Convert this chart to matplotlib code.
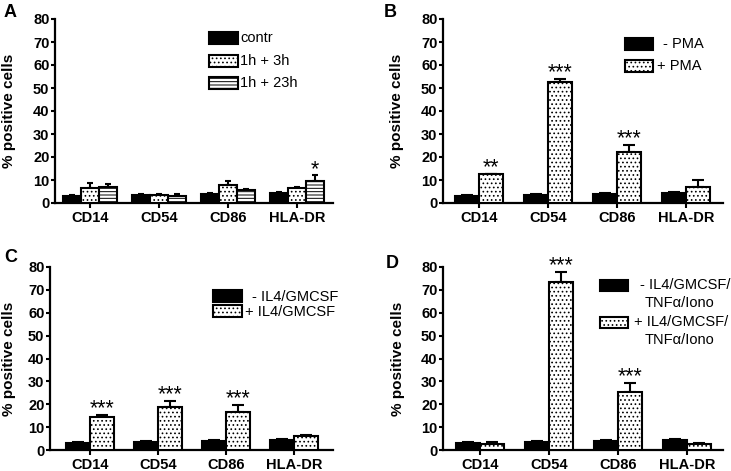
import numpy as np
import matplotlib
matplotlib.use('Agg')
import matplotlib.pyplot as plt
from matplotlib.patches import Rectangle

plt.rcParams['font.family'] = ['Liberation Sans', 'DejaVu Sans']
plt.rcParams['hatch.linewidth'] = 0.7

W, H = 731, 471

markers = ['CD14', 'CD54', 'CD86', 'HLA-DR']

# A - contr / 1h+3h / 1h+23h
a_contr = [3.0, 3.5, 4.0, 4.5]
a_contr_err = [0.3, 0.3, 0.3, 0.3]
a_3h = [6.5, 3.5, 8.0, 6.5]
a_3h_err = [2.2, 0.6, 1.5, 0.4]
a_23h = [7.0, 3.2, 5.5, 9.5]
a_23h_err = [1.4, 0.6, 0.6, 2.5]
a_stars = ['', '', '', '*']

# B - PMA
b_minus = [3.0, 3.5, 4.0, 4.5]
b_minus_err = [0.3, 0.3, 0.2, 0.3]
b_plus = [12.5, 52.5, 22.0, 7.0]
b_plus_err = [0.3, 1.3, 3.2, 2.8]
b_stars = ['**', '***', '***', '']

# C - IL4/GMCSF
c_minus = [3.0, 3.5, 4.0, 4.5]
c_minus_err = [0.3, 0.3, 0.2, 0.3]
c_plus = [14.5, 19.0, 16.5, 6.0]
c_plus_err = [0.8, 2.5, 3.2, 0.7]
c_stars = ['***', '***', '***', '']

# D - IL4/GMCSF/TNFa/Iono
d_minus = [3.0, 3.5, 4.0, 4.5]
d_minus_err = [0.3, 0.3, 0.2, 0.3]
d_plus = [2.5, 73.5, 25.5, 2.5]
d_plus_err = [0.8, 4.5, 4.0, 0.4]
d_stars = ['', '***', '***', '']

STYLES = {
    'black': dict(facecolor='black', hatch=None),
    'dots': dict(facecolor='white', hatch='....'),
    'lines': dict(facecolor='white', hatch='-----'),
}

fig = plt.figure(figsize=(W / 100, H / 100), dpi=100)


def px_axes(left, right, top, bottom):
    return fig.add_axes([left / W, 1 - bottom / H, (right - left) / W, (bottom - top) / H])


def style_axes(ax, xlim, ylab_x):
    ax.set_xlim(*xlim)
    ax.set_ylim(0, 80)
    ax.set_yticks(range(0, 81, 10))
    ax.set_xticks(np.arange(len(markers)))
    ax.set_xticklabels(markers, fontsize=10.5, fontweight='bold')
    for lab in ax.get_yticklabels():
        lab.set_fontweight('bold')
        lab.set_fontsize(10.5)
    ax.spines['top'].set_visible(False)
    ax.spines['right'].set_visible(False)
    ax.spines['left'].set_linewidth(1.6)
    ax.spines['bottom'].set_linewidth(1.6)
    ax.tick_params(axis='y', length=3, width=1.5, pad=1)
    ax.tick_params(axis='x', length=3.5, width=1.5, pad=2)
    ax.set_ylabel('% positive cells', fontsize=11, fontweight='bold')
    ax.yaxis.set_label_coords(ylab_x, 0.5)


def draw_bars(ax, vals, errs, style, offset, width, capsize):
    x = np.arange(len(markers)) + offset
    st = STYLES[style]
    ax.bar(x, vals, width=width, facecolor=st['facecolor'], hatch=st['hatch'],
           edgecolor='black', linewidth=1.5, zorder=3)
    ax.errorbar(x, vals, yerr=[np.zeros(len(vals)), errs], fmt='none',
                ecolor='black', elinewidth=1.5, capsize=capsize, capthick=1.5, zorder=2)
    return x


def draw_stars(ax, x, vals, errs, stars):
    for xi, v, e, s in zip(x, vals, errs, stars):
        if s:
            ax.annotate(s, (xi, v + e), xytext=(0, 0.5), textcoords='offset points',
                        ha='center', va='baseline', fontsize=15.5)


def legend_box(x, y, w, h, style):
    st = STYLES[style]
    fig.add_artist(Rectangle((x / W, 1 - (y + h) / H), w / W, h / H, transform=fig.transFigure,
                             facecolor=st['facecolor'], hatch=st['hatch'],
                             edgecolor='black', linewidth=1.5))


def legend_text(x, y, s):
    fig.text(x / W, 1 - y / H, s, fontsize=10.5, va='center', ha='left')


def panel_letter(x, y, s):
    fig.text(x / W, 1 - y / H, s, fontsize=13, fontweight='bold', va='top', ha='left')


# ---- A
axA = px_axes(55, 333, 19, 203)
style_axes(axA, (-0.51, 3.52), -0.14)
w3 = 0.26
draw_bars(axA, a_contr, a_contr_err, 'black', -w3, w3, 2.5)
draw_bars(axA, a_3h, a_3h_err, 'dots', 0, w3, 2.5)
xa = draw_bars(axA, a_23h, a_23h_err, 'lines', w3, w3, 2.5)
draw_stars(axA, xa, a_23h, a_23h_err, a_stars)
legend_box(209, 32, 29, 12, 'black')
legend_box(209, 55, 29, 12, 'dots')
legend_box(209, 77, 29, 12, 'lines')
legend_text(240, 38, 'contr')
legend_text(240, 61, '1h + 3h')
legend_text(240, 83, '1h + 23h')
panel_letter(4, 4, 'A')

# ---- B
w2 = 0.35
axB = px_axes(443, 723, 19, 203)
style_axes(axB, (-0.52, 3.54), -0.139)
draw_bars(axB, b_minus, b_minus_err, 'black', -w2 / 2, w2, 4)
xb = draw_bars(axB, b_plus, b_plus_err, 'dots', w2 / 2, w2, 4)
draw_stars(axB, xb, b_plus, b_plus_err, b_stars)
legend_box(625, 38, 28, 12, 'black')
legend_box(625, 60, 28, 12, 'dots')
legend_text(663, 44, '- PMA')
legend_text(657, 66, '+ PMA')
panel_letter(384, 4, 'B')

# ---- C
axC = px_axes(50, 333, 267, 450)
style_axes(axC, (-0.59, 3.57), -0.12)
draw_bars(axC, c_minus, c_minus_err, 'black', -w2 / 2, w2, 4)
xc = draw_bars(axC, c_plus, c_plus_err, 'dots', w2 / 2, w2, 4)
draw_stars(axC, xc, c_plus, c_plus_err, c_stars)
legend_box(213, 290, 29, 12, 'black')
legend_box(213, 305, 29, 12, 'dots')
legend_text(252, 297, '- IL4/GMCSF')
legend_text(245, 312, '+ IL4/GMCSF')
panel_letter(4, 249, 'C')

# ---- D
axD = px_axes(443, 723, 267, 450)
style_axes(axD, (-0.54, 3.52), -0.136)
draw_bars(axD, d_minus, d_minus_err, 'black', -w2 / 2, w2, 4)
xd = draw_bars(axD, d_plus, d_plus_err, 'dots', w2 / 2, w2, 4)
draw_stars(axD, xd, d_plus, d_plus_err, d_stars)
legend_box(600, 280, 28, 11, 'black')
legend_box(600, 317, 28, 11, 'dots')
legend_text(640, 285, '- IL4/GMCSF/')
legend_text(645, 303, 'TNF\u03b1/Iono')
legend_text(634, 322, '+ IL4/GMCSF/')
legend_text(645, 340, 'TNF\u03b1/Iono')
panel_letter(386, 255, 'D')

fig.savefig('out.png', dpi=100)
